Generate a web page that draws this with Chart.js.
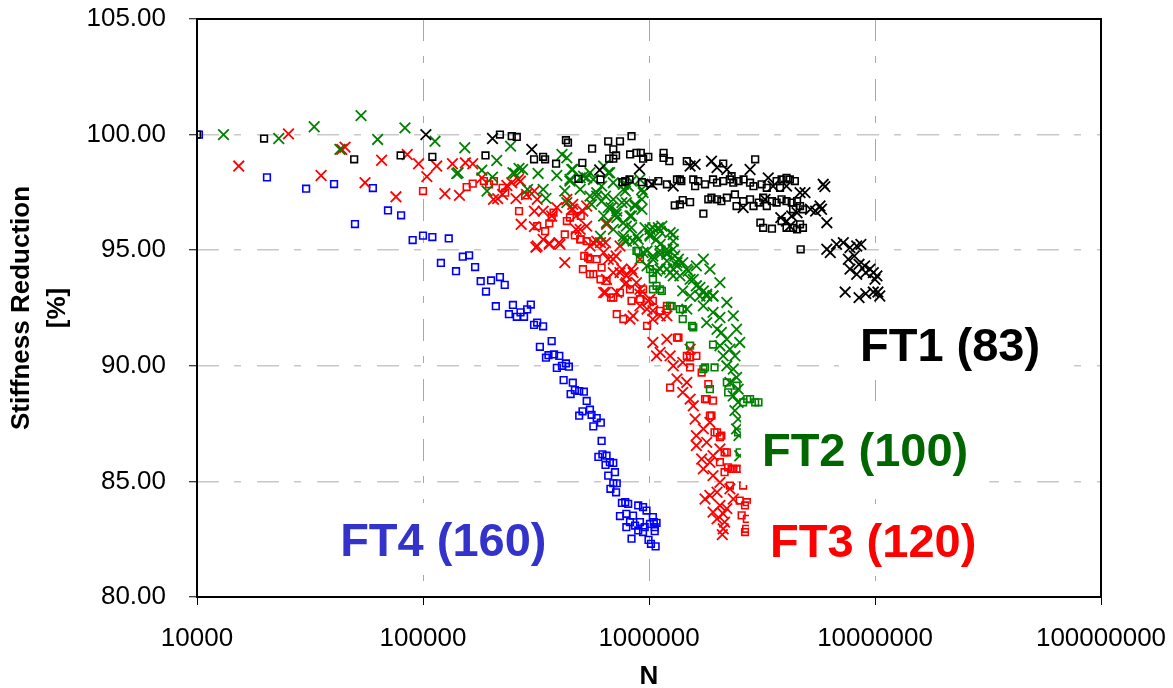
<!DOCTYPE html>
<html>
<head>
<meta charset="utf-8">
<title>Stiffness Reduction</title>
<script src="https://cdn.jsdelivr.net/npm/chart.js@4.4.1/dist/chart.umd.min.js"></script>
<style>
  body { margin: 0; background: #fff; }
  #wrap { width: 1173px; height: 688px; position: relative; }
</style>
</head>
<body>
<div id="wrap"><canvas id="grafica"></canvas></div>
<script>
// ejes
const xTickValues = [10000, 100000, 1000000, 10000000, 100000000];
const yMin = 80, yMax = 105, yStep = 5;

// FT1 (83) - cruces
const ft1Crosses = [[1.03e5,100.0],[2.03e5,99.83],[3.03e5,99.36],[6.05e5,98.47],[9.07e5,98.52],[1.03e6,97.85],[1.28e6,97.77],[1.52e6,98.64],[1.60e6,98.71],[1.89e6,98.85],[2.0e6,98.57],[2.21e6,98.49],[2.80e6,98.49],[3.37e6,98.13],[3.54e6,97.77],[4.06e6,97.77],[4.66e6,97.49],[4.90e6,97.49],[5.90e6,97.85],[6.0e6,97.75],[5.71e6,96.91],[5.8e6,96.77],[5.46e6,96.69],[5.18e6,96.77],[6.12e6,96.19],[4.28e6,96.48],[4.52e6,96.62],[4.06e6,96.26],[4.2e6,96.04],[2.61e6,96.84],[3.26e6,97.20],[3.83e6,96.41],[6.12e6,95.04],[6.34e6,94.90],[6.76e6,95.25],[7.24e6,95.33],[7.75e6,95.11],[8.3e6,95.18],[8.66e6,95.25],[7.62e6,94.61],[8.1e6,94.75],[7.75e6,94.18],[8.5e6,94.39],[9.0e6,94.32],[9.5e6,94.18],[8.3e6,93.96],[9.1e6,94.03],[9.83e6,94.03],[1.0e7,93.74],[1.02e7,93.89],[7.38e6,93.19],[8.5e6,92.95],[9.1e6,93.12],[9.83e6,93.19],[1.05e7,93.02],[1.03e7,93.19]];
// FT1 (83) - cuadros
const ft1Squares = [[1.0e4,100.0],[1.98e4,99.83],[4.96e4,98.93],[7.96e4,99.10],[1.10e5,99.04],[1.89e5,99.10],[2.19e5,100.0],[2.47e5,99.93],[2.60e5,99.90],[3.10e5,98.93],[3.40e5,99.04],[3.47e5,98.93],[3.88e5,98.74],[4.29e5,99.76],[4.38e5,99.65],[5.07e5,98.78],[4.87e5,98.09],[5.60e5,99.39],[6.1e5,98.06],[6.6e5,99.71],[7.44e5,99.71],[8.37e5,99.93],[6.95e5,99.36],[6.66e5,98.96],[6.95e5,98.96],[7.15e5,99.10],[8.25e5,99.14],[8.8e5,99.21],[9.2e5,99.21],[9.42e5,98.96],[9.93e5,99.04],[7.63e5,97.94],[8.2e5,98.06],[9.3e5,97.94],[1.01e6,97.89],[1.10e6,97.99],[1.20e6,97.85],[1.33e6,98.06],[1.16e6,99.21],[1.16e6,98.99],[1.23e6,98.85],[1.30e6,96.94],[1.47e6,98.85],[2.13e6,98.75],[2.95e6,98.93],[7.85e5,97.99],[1.37e6,98.06],[1.39e6,97.99],[1.57e6,98.06],[1.65e6,97.99],[1.60e6,97.77],[1.77e6,97.85],[1.92e6,98.06],[2.0e6,97.92],[2.13e6,97.99],[2.28e6,98.06],[2.36e6,97.92],[2.49e6,97.99],[2.62e6,98.06],[2.80e6,97.92],[2.9e6,97.77],[3.15e6,97.85],[3.32e6,97.70],[3.67e6,97.99],[3.86e6,98.06],[4.06e6,98.13],[4.2e6,98.06],[4.42e6,97.99],[3.8e6,97.70],[1.37e6,96.98],[1.41e6,97.17],[1.52e6,97.08],[1.74e6,96.58],[1.83e6,97.20],[1.89e6,97.27],[2.0e6,97.20],[2.09e6,97.12],[2.21e6,97.27],[2.40e6,97.41],[2.44e6,96.91],[2.61e6,97.12],[2.80e6,97.20],[2.9e6,96.91],[3.06e6,97.06],[3.2e6,97.27],[3.32e6,96.91],[3.5e6,97.12],[3.67e6,97.06],[3.86e6,97.20],[4.06e6,97.12],[4.28e6,97.06],[4.52e6,97.12],[4.66e6,96.91],[3.11e6,96.19],[3.2e6,95.97],[3.5e6,95.93],[3.86e6,96.26],[4.06e6,95.97],[4.34e6,95.97],[4.66e6,96.12],[4.8e6,95.97],[4.52e6,95.90],[4.69e6,95.04],[4.8e6,96.77],[4.34e6,96.77],[2.32e6,98.20]];

// FT2 (100)
const ft2Crosses = [[1.31e4,100.0],[2.30e4,99.83],[3.30e4,100.34],[4.29e4,99.36],[5.32e4,100.82],[6.3e4,99.79],[8.32e4,100.29],[1.13e5,99.71],[1.53e5,99.43],[1.41e5,98.31],[1.82e5,98.46],[1.92e5,97.56],[2.03e5,98.16],[2.12e5,98.88],[2.44e5,99.50],[2.55e5,98.32],[2.66e5,98.54],[2.76e5,98.49],[2.90e5,97.63],[3.23e5,98.32],[3.40e5,97.63],[3.50e5,97.24],[3.91e5,98.23],[4.12e5,99.14],[4.33e5,99.0],[4.24e5,97.56],[4.6e5,98.49],[4.47e5,97.99],[4.96e5,98.13],[1.43e5,98.35],[2.5e5,98.35],[4.33e5,97.06],[5.3e5,98.13],[5.87e5,97.34],[5.57e5,96.98],[6.17e5,97.77],[6.42e5,97.34],[6.6e5,98.35],[6.95e5,97.20],[6.8e5,96.84],[7.15e5,96.55],[7.59e5,97.06],[7.85e5,97.56],[8.24e5,96.48],[8.68e5,96.98],[9.3e5,97.20],[9.3e5,96.77],[7.7e5,97.85],[8.37e5,97.99],[9.42e5,97.49],[9.12e5,98.06],[6.3e5,96.48],[7.7e5,96.19],[8.37e5,95.97],[9.6e5,95.97],[1.04e6,95.97],[1.14e6,96.04],[8.8e5,95.61],[1.01e6,95.68],[1.12e6,95.82],[1.28e6,95.68],[7.94e5,95.39],[9.42e5,94.90],[1.04e6,94.75],[1.12e6,94.97],[1.2e6,94.90],[1.28e6,95.04],[1.35e6,94.61],[9.8e5,94.32],[1.08e6,94.10],[1.2e6,94.18],[1.28e6,93.89],[4.55e5,98.49],[5.13e5,98.20],[5.48e5,98.35],[5.67e5,98.06],[6.3e5,98.64],[6.7e5,98.35],[6.95e5,97.92],[7.7e5,97.63],[8.09e5,97.77],[9.3e5,97.63],[4.47e5,98.06],[4.96e5,97.63],[5.48e5,97.34],[5.87e5,97.49],[6.17e5,97.12],[6.6e5,96.84],[7.2e5,96.69],[7.2e5,96.41],[7.94e5,97.06],[8.37e5,96.48],[8.68e5,96.91],[6.49e5,96.19],[6.95e5,95.90],[7.7e5,95.61],[7.94e5,96.04],[6.1e5,95.61],[8.96e5,95.47],[1.01e6,95.90],[1.1e6,95.97],[1.08e6,95.47],[1.24e6,95.76],[9.8e5,94.97],[1.04e6,94.61],[1.12e6,94.82],[1.2e6,95.04],[1.2e6,94.54],[1.3e6,94.75],[1.33e6,94.32],[1.41e6,94.46],[1.49e6,94.10],[1.12e6,94.18],[1.24e6,94.03],[1.37e6,93.89],[1.52e6,93.74],[1.62e6,93.46],[1.74e6,93.24],[1.8e6,93.10],[1.68e6,93.02],[1.92e6,93.02],[1.01e6,95.61],[1.12e6,95.25],[1.2e6,94.82],[1.33e6,94.46],[1.47e6,94.18],[1.57e6,93.74],[1.68e6,93.39],[1.8e6,93.02],[1.52e6,93.02],[1.74e6,92.59],[1.92e6,92.31],[2.06e6,92.09],[1.8e6,91.87],[2.0e6,91.58],[2.09e6,91.44],[2.21e6,91.15],[2.06e6,90.87],[2.28e6,90.72],[2.4e6,90.43],[2.13e6,90.43],[2.21e6,90.0],[2.36e6,89.86],[2.44e6,89.50],[2.28e6,89.28],[2.48e6,88.99],[2.36e6,88.70],[2.48e6,88.42],[2.4e6,88.06],[2.48e6,87.70],[2.44e6,87.27],[2.5e6,86.98],[2.52e6,86.11],[1.86e6,94.18],[2.06e6,93.60],[1.92e6,93.02],[2.21e6,92.74],[2.36e6,92.16],[2.44e6,91.58],[2.52e6,91.01],[1.74e6,94.61],[1.62e6,94.32],[1.28e6,94.18],[1.41e6,93.24],[1.47e6,92.45],[1.28e6,95.39],[8.5e5,95.39],[7.7e5,95.47]];
const ft2Squares = [[8.8e5,94.97],[9.12e5,94.61],[1.04e6,93.74],[1.12e6,93.31],[1.24e6,92.59],[1.37e6,92.45],[1.41e6,92.02],[1.55e6,91.73],[1.52e6,90.87],[1.74e6,89.86],[1.95e6,89.93],[1.86e6,88.99],[2.21e6,89.28],[2.72e6,88.56],[2.95e6,88.42],[3.05e6,88.42],[2.61e6,88.42],[2.24e6,88.85],[2.44e6,89.14],[1.92e6,90.92],[1.04e6,93.31],[1.01e6,94.18],[8.96e5,94.97],[1.08e6,93.46],[1.14e6,93.24],[1.04e6,94.03],[1.26e6,92.58],[1.41e6,92.45],[1.57e6,91.66],[1.77e6,89.93],[2.80e6,88.56],[2.48e6,87.12],[2.52e6,86.26]];

// FT3 (120)
const ft3Crosses = [[1.53e4,98.64],[2.54e4,100.03],[3.54e4,98.23],[4.52e4,99.46],[4.37e4,99.36],[5.54e4,97.92],[6.56e4,98.89],[7.59e4,97.31],[8.52e4,99.14],[9.56e4,98.74],[1.04e5,98.18],[1.15e5,98.64],[1.25e5,97.44],[1.35e5,98.74],[1.45e5,97.37],[1.54e5,98.78],[1.66e5,98.74],[1.82e5,98.13],[2.05e5,97.20],[2.14e5,97.23],[2.35e5,97.80],[2.64e5,98.06],[2.72e5,96.12],[3.11e5,96.02],[3.11e5,97.56],[3.2e5,97.20],[3.62e5,95.30],[4.0e5,95.33],[4.33e5,97.20],[4.6e5,96.77],[4.76e5,95.90],[5.3e5,96.91],[2.25e5,97.41],[2.47e5,97.92],[2.7e5,97.99],[2.58e5,97.23],[2.87e5,97.41],[3.11e5,96.69],[3.16e5,95.13],[3.40e5,95.47],[3.40e5,96.69],[3.71e5,96.48],[3.91e5,96.84],[4.04e5,95.25],[4.24e5,94.46],[4.55e5,96.77],[4.6e5,96.98],[4.76e5,96.48],[5.1e5,96.69],[4.96e5,95.90],[5.3e5,96.04],[5.48e5,95.18],[5.87e5,95.39],[6.1e5,95.33],[6.49e5,96.12],[6.3e5,94.90],[6.6e5,94.61],[6.95e5,94.03],[7.44e5,95.18],[7.59e5,94.18],[7.94e5,93.89],[8.37e5,94.18],[8.8e5,93.60],[6.42e5,93.17],[7.2e5,93.17],[9.12e5,93.10],[7.85e5,93.53],[9.12e5,92.59],[9.93e5,92.81],[1.04e6,92.38],[8.5e5,92.16],[9.12e5,94.61],[7.15e5,94.75],[3.2e5,95.18],[3.62e5,95.25],[5.67e5,95.33],[6.42e5,95.33],[6.95e5,94.61],[7.44e5,94.03],[6.49e5,93.74],[6.3e5,93.17],[7.94e5,93.60],[8.5e5,94.03],[9.12e5,93.31],[8.24e5,92.02],[9.8e5,92.45],[1.04e6,92.02],[1.12e6,92.16],[1.04e6,91.01],[1.12e6,90.58],[1.2e6,91.15],[1.08e6,90.43],[1.24e6,90.43],[1.28e6,90.0],[1.41e6,90.15],[1.33e6,89.43],[1.47e6,89.28],[1.52e6,88.56],[1.41e6,88.85],[1.6e6,87.70],[1.74e6,87.27],[1.62e6,86.98],[1.8e6,86.69],[1.71e6,85.97],[1.86e6,85.83],[1.74e6,85.54],[1.92e6,85.25],[2.0e6,84.53],[1.86e6,84.39],[2.06e6,83.96],[1.92e6,83.67],[2.13e6,83.60],[2.0e6,83.38],[2.16e6,83.24],[2.13e6,82.95],[1.77e6,84.24],[2.21e6,83.82],[2.36e6,84.24],[1.57e6,88.27],[1.62e6,86.55],[1.86e6,87.55],[2.06e6,86.40],[2.06e6,84.96],[2.28e6,84.68],[1.92e6,86.11],[1.52e6,90.72],[1.01e6,92.88],[1.2e6,92.16],[2.11e6,82.70]];
const ft3Squares = [[1.0e5,97.56],[1.56e5,97.73],[1.66e5,97.88],[1.86e5,97.99],[1.96e5,97.85],[2.06e5,97.99],[2.25e5,97.70],[2.31e5,97.49],[2.66e5,96.69],[2.83e5,97.37],[3.2e5,96.04],[3.47e5,95.82],[3.62e5,96.16],[3.78e5,96.62],[4.24e5,95.68],[4.47e5,96.41],[4.7e5,95.64],[4.99e5,95.47],[5.17e5,94.75],[5.48e5,94.61],[5.1e5,94.18],[5.67e5,93.96],[6.1e5,93.74],[6.49e5,93.67],[6.95e5,92.95],[7.44e5,93.17],[8.37e5,92.81],[7.2e5,92.23],[1.04e6,92.81],[1.12e6,92.38],[1.2e6,92.59],[9.42e5,93.31],[5.87e5,94.61],[6.17e5,94.25],[3.71e5,96.41],[4.33e5,96.26],[4.99e5,96.48],[5.3e5,95.39],[4.96e5,95.47],[5.38e5,94.68],[5.48e5,93.96],[6.79e5,92.95],[7.7e5,92.02],[8.24e5,93.31],[9.12e5,92.88],[9.8e5,91.73],[1.2e6,92.45],[1.33e6,91.22],[1.47e6,90.43],[1.62e6,90.43],[1.52e6,89.93],[1.71e6,89.71],[1.24e6,89.06],[1.83e6,89.21],[1.8e6,88.56],[1.92e6,88.49],[1.89e6,87.84],[1.95e6,87.12],[2.06e6,86.91],[2.16e6,86.26],[2.24e6,85.61],[2.36e6,85.54],[2.28e6,84.82],[2.52e6,85.54],[2.57e6,83.53],[2.66e6,83.96],[2.71e6,83.38],[2.66e6,82.81],[1.35e6,91.22],[1.52e6,90.36],[1.77e6,88.56],[1.86e6,87.84],[2.0e6,87.12],[2.09e6,86.98],[2.21e6,86.26],[2.32e6,85.54],[2.44e6,85.54],[2.61e6,84.82],[2.52e6,84.17],[2.71e6,84.10],[2.69e6,82.95],[2.16e6,85.40],[2.06e6,85.83]];

// FT4 (160)
const ft4Squares = [[1.02e4,100.0],[2.04e4,98.15],[3.04e4,97.66],[4.04e4,97.86],[5.0e4,96.13],[6.0e4,97.69],[7.0e4,96.72],[8.0e4,96.51],[9.0e4,95.44],[1.0e5,95.63],[1.10e5,95.57],[1.30e5,95.51],[1.20e5,94.45],[1.40e5,94.09],[1.50e5,94.72],[1.60e5,94.78],[1.70e5,94.27],[1.80e5,93.66],[1.90e5,93.21],[2.0e5,93.69],[2.19e5,93.84],[2.30e5,93.50],[2.10e5,92.58],[2.40e5,92.23],[2.50e5,92.63],[2.60e5,92.12],[2.70e5,92.31],[2.80e5,92.12],[2.89e5,92.44],[3.0e5,92.65],[3.10e5,91.77],[3.20e5,91.87],[3.40e5,91.71],[3.29e5,90.82],[3.71e5,91.07],[3.50e5,90.35],[3.59e5,90.46],[3.80e5,90.49],[4.01e5,90.43],[3.91e5,89.91],[4.12e5,90.0],[4.29e5,90.10],[4.42e5,89.96],[4.19e5,89.38],[4.60e5,89.27],[4.50e5,88.78],[4.70e5,88.95],[4.91e5,88.91],[5.15e5,88.88],[5.30e5,88.48],[4.91e5,87.84],[5.08e5,88.03],[5.48e5,88.10],[5.57e5,87.88],[5.87e5,87.74],[6.12e5,87.54],[5.67e5,87.38],[6.17e5,86.75],[5.97e5,86.06],[6.22e5,86.17],[6.49e5,86.11],[6.42e5,85.71],[6.71e5,85.83],[6.95e5,85.80],[6.60e5,85.25],[7.07e5,85.40],[6.95e5,84.92],[7.20e5,84.92],[6.75e5,84.68],[7.15e5,84.53],[7.59e5,84.07],[7.85e5,84.10],[8.09e5,84.03],[7.44e5,83.50],[7.94e5,83.60],[8.96e5,83.96],[9.41e5,83.89],[9.75e5,83.74],[1.04e6,83.46],[8.50e5,83.52],[8.24e5,83.24],[8.68e5,83.09],[9.12e5,83.24],[9.57e5,83.02],[1.01e6,83.16],[1.05e6,83.24],[1.08e6,83.21],[8.96e5,82.88],[9.41e5,82.81],[1.06e6,83.02],[1.06e6,82.85],[8.37e5,82.52],[9.95e5,82.47],[1.02e6,82.30],[1.07e6,82.19],[7.94e5,83.02]];

// etiquetas de cada serie (posicion en N / rigidez)
const seriesLabels = [
  { text: 'FT1 (83)',  n: 8.58e6, s: 90.94, color: '#000000' },
  { text: 'FT2 (100)', n: 3.16e6, s: 86.40, color: '#006600' },
  { text: 'FT3 (120)', n: 3.43e6, s: 82.47, color: '#ff0000' },
  { text: 'FT4 (160)', n: 4.30e4, s: 82.51, color: '#3333cc' }
];

function toPoints(arr) {
  return arr.map(p => ({ x: p[0], y: p[1] }));
}

function crossSet(label, arr, color) {
  return {
    label: label, data: toPoints(arr),
    pointStyle: 'crossRot', pointRadius: 7.5,
    pointBorderColor: color, pointBackgroundColor: color, pointBorderWidth: 1.8
  };
}
function squareSet(label, arr, color) {
  return {
    label: label, data: toPoints(arr),
    pointStyle: 'rect', pointRadius: 4.7,
    pointBorderColor: color, pointBackgroundColor: 'rgba(0,0,0,0)', pointBorderWidth: 1.6
  };
}

// recuadros blancos con el texto de cada serie
const labelPlugin = {
  id: 'seriesLabels',
  afterDatasetsDraw(chart) {
    const ctx = chart.ctx;
    const xs = chart.scales.x, ys = chart.scales.y;
    ctx.save();
    ctx.font = 'bold 47px "Liberation Sans", Arial, sans-serif';
    ctx.textBaseline = 'alphabetic';
    seriesLabels.forEach(l => {
      const x = xs.getPixelForValue(l.n);
      const y = ys.getPixelForValue(l.s);
      const w = ctx.measureText(l.text).width;
      ctx.fillStyle = '#ffffff';
      ctx.fillRect(x - 21, y - 36, w + 42, 72);
      ctx.fillStyle = l.color;
      ctx.fillText(l.text, x, y + 17);
    });
    ctx.restore();
  }
};

// marco del area de trazado
const framePlugin = {
  id: 'frame',
  afterDraw(chart) {
    const a = chart.chartArea, ctx = chart.ctx;
    ctx.save();
    ctx.strokeStyle = '#000';
    ctx.lineWidth = 2;
    ctx.strokeRect(a.left, a.top, a.right - a.left, a.bottom - a.top);
    ctx.restore();
  }
};

const tickFont = { family: '"Liberation Sans", Arial, sans-serif', size: 26 };

var ctx = document.getElementById('grafica').getContext('2d');
var grafica = new Chart(ctx, {
  type: 'scatter',
  data: {
    datasets: [
      crossSet('FT1 (83) x', ft1Crosses, '#000000'),
      squareSet('FT1 (83)', ft1Squares, '#000000'),
      crossSet('FT2 (100) x', ft2Crosses, '#008000'),
      squareSet('FT2 (100)', ft2Squares, '#008000'),
      crossSet('FT3 (120) x', ft3Crosses, '#ff0000'),
      squareSet('FT3 (120)', ft3Squares, '#ff0000'),
      squareSet('FT4 (160)', ft4Squares, '#0000ff')
    ]
  },
  options: {
    responsive: true,
    maintainAspectRatio: false,
    animation: false,
    events: [],
    layout: { padding: { top: 19, right: 72, left: 0, bottom: 0 } },
    plugins: { legend: { display: false }, tooltip: { enabled: false } },
    scales: {
      x: {
        type: 'logarithmic',
        min: xTickValues[0],
        max: xTickValues[xTickValues.length - 1],
        afterBuildTicks: scale => { scale.ticks = xTickValues.map(v => ({ value: v })); },
        // alto fijo del eje y sin relleno lateral extra
        afterFit: scale => { scale.height = 91; scale.paddingLeft = 0; scale.paddingRight = 0; },
        ticks: {
          autoSkip: false, maxRotation: 0, padding: 18,
          color: '#000', font: tickFont,
          callback: v => String(v)
        },
        grid: {
          color: '#a8a8a8', lineWidth: 1,
          tickLength: 8, tickColor: '#000', tickWidth: 1
        },
        border: { display: false, dash: [22, 15, 7, 16] },
        title: {
          display: true, text: 'N', color: '#000',
          font: { family: '"Liberation Sans", Arial, sans-serif', size: 26, weight: 'bold', lineHeight: 0.846 },
          padding: { top: 0, bottom: 0 }
        }
      },
      y: {
        min: yMin, max: yMax,
        afterFit: scale => { scale.width = 197; scale.paddingTop = 0; scale.paddingBottom = 0; },
        ticks: {
          stepSize: yStep, padding: 23,
          color: '#000', font: tickFont,
          callback: v => v.toFixed(2)
        },
        grid: {
          color: '#c8c8c8', lineWidth: 1.5,
          tickLength: 8, tickColor: '#000', tickWidth: 1
        },
        border: { display: false, dash: [22, 15, 7, 16] },
        title: {
          display: true, text: ['Stiffness Reduction', '[%]'], color: '#000',
          font: { family: '"Liberation Sans", Arial, sans-serif', size: 26, weight: 'bold', lineHeight: 1.385 },
          padding: { top: 4, bottom: 0 }
        }
      }
    }
  },
  plugins: [labelPlugin, framePlugin]
});
</script>
</body>
</html>
